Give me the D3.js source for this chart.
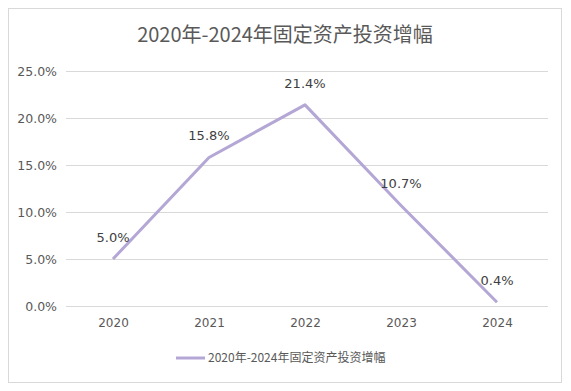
<!DOCTYPE html>
<html><head><meta charset="utf-8">
<script src="https://cdn.jsdelivr.net/npm/d3@7"></script>
<style>body{margin:0;background:#fff;}svg{display:block;}</style>
</head><body>
<svg id="c" width="571" height="391"></svg>
<script>
const categories = ["2020","2021","2022","2023","2024"];
const values = [5.0, 15.8, 21.4, 10.7, 0.4];
const yTicks = [0, 5, 10, 15, 20, 25];
const title = "2020年-2024年固定资产投资增幅";
const seriesName = "2020年-2024年固定资产投资增幅";

const svg = d3.select("#c");
const font = "'DejaVu Sans', 'Noto Sans CJK SC', sans-serif";
svg.append("rect").attr("x",8.5).attr("y",8.5).attr("width",553).attr("height",374)
  .attr("fill","#fff").attr("stroke","#d9d9d9").attr("stroke-width",1);

const x = d3.scalePoint().domain(categories).range([65,545]).padding(0.5);
const y = d3.scaleLinear().domain([0,25]).range([306,71]);

svg.append("text").attr("x",285).attr("y",42).attr("text-anchor","middle")
  .attr("font-family","'Noto Sans CJK SC', sans-serif").attr("font-size",20).attr("fill","#595959").text(title);

const gy = svg.append("g").attr("transform","translate(66,0)")
  .call(d3.axisLeft(y).tickValues(yTicks).tickSize(-482).tickFormat(d=>d.toFixed(1)+"%"));
gy.select(".domain").remove();
gy.selectAll(".tick line").attr("stroke","#d9d9d9");
gy.selectAll(".tick text").attr("x",-9).attr("font-family",font).attr("font-size",12.5).attr("fill","#595959");

const gx = svg.append("g").attr("transform","translate(0,306)")
  .call(d3.axisBottom(x).tickSize(0).tickPadding(12));
gx.select(".domain").remove();
gx.selectAll(".tick text").attr("font-family",font).attr("font-size",12).attr("fill","#595959");

const line = d3.line().x((d,i)=>x(categories[i])).y(d=>y(d));
svg.append("path").datum(values).attr("d",line).attr("fill","none")
  .attr("stroke","#b4a7d6").attr("stroke-width",3).attr("stroke-linejoin","round");

svg.selectAll(".lbl").data(values).enter().append("text").attr("class","lbl")
  .attr("x",(d,i)=>x(categories[i])).attr("y",d=>y(d)-17).attr("text-anchor","middle")
  .attr("font-family",font).attr("font-size",13).attr("fill","#404040").text(d=>d.toFixed(1)+"%");

const lg = svg.append("g");
lg.append("line").attr("x1",176).attr("x2",205).attr("y1",358).attr("y2",358)
  .attr("stroke","#b4a7d6").attr("stroke-width",3);
lg.append("text").attr("x",208).attr("y",362).attr("font-family","'Noto Sans CJK SC', sans-serif")
  .attr("font-size",12).attr("fill","#595959").text(seriesName);
</script>
</body></html>
